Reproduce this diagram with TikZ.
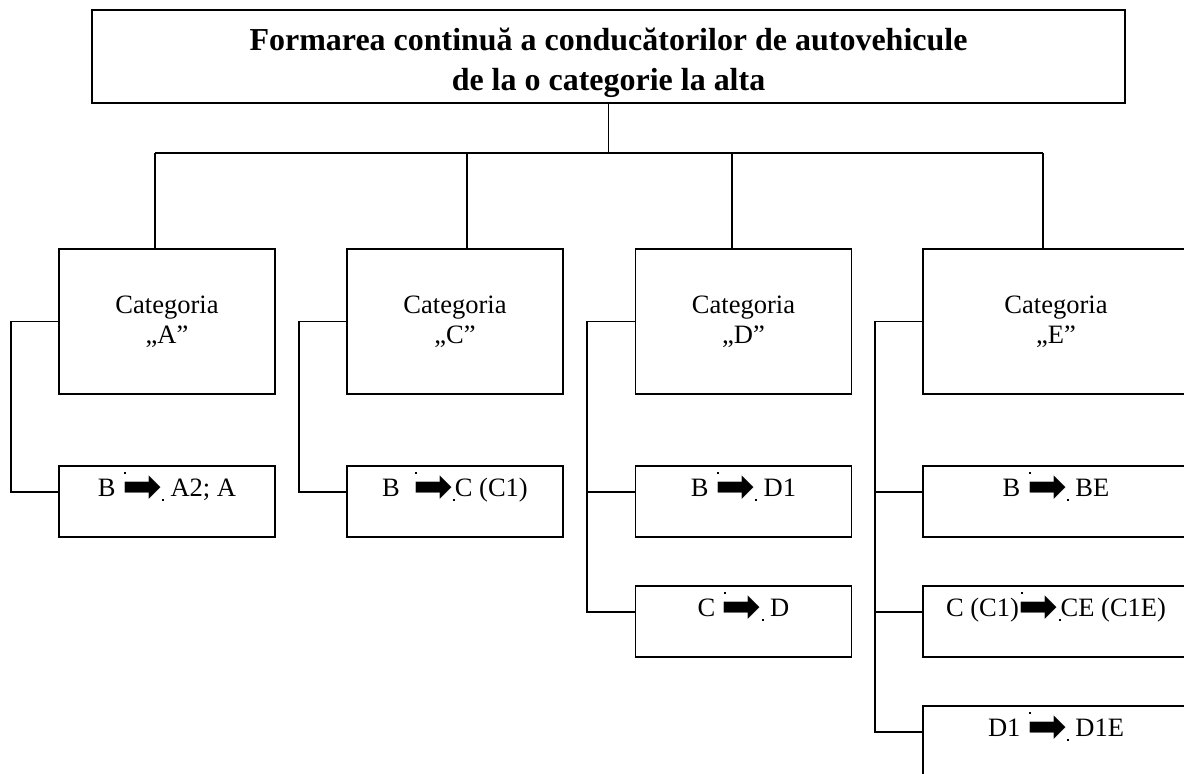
\documentclass[tikz,border=0pt]{standalone}
\usepackage{fontspec}
\setmainfont{Liberation Serif}
\newfontfamily\arrowfont{DejaVu Sans}
\usetikzlibrary{positioning}

\newcommand{\thickarrow}{\rlap{\hspace{1pt}\raisebox{12.5pt}{\rule{1.1pt}{1.1pt}}}\raisebox{-3.5pt}{\arrowfont\fontsize{27pt}{27pt}\selectfont ➡}\raisebox{-2.6pt}{\rule{1.1pt}{1.1pt}}}

\begin{document}
\begin{tikzpicture}[
  x=0.02cm, y=-0.02cm,
  line width=0.85pt,
  titlebox/.style={rectangle, draw, line width=1.2pt, align=center, font=\fontsize{18.2pt}{22.8pt}\selectfont\bfseries, minimum width=20.66cm, minimum height=1.85cm},
  catbox/.style={rectangle, draw, align=center, font=\fontsize{15.1pt}{17.2pt}\selectfont, minimum width=4.32cm, minimum height=2.9cm},
  subbox/.style={rectangle, draw, inner sep=0pt, font=\fontsize{15.1pt}{16.5pt}\selectfont, minimum width=4.32cm, text height=0.6cm, text depth=0.82cm},
  wide/.style={minimum width=5.32cm}
]
  \useasboundingbox (0,0) rectangle (1184,774);
  \clip (0,0) rectangle (1184,774);

  % Title
  \node[titlebox] (title) at (608.5,56.75) {\rule{0pt}{19.5pt}Formarea continuă a conducătorilor de autovehicule\\de la o categorie la alta};

  % Categories
  \node[catbox] (catA) at (167,321.5) {Categoria\\„A”};
  \node[catbox] (catC) at (455,321.5) {Categoria\\„C”};
  \node[catbox] (catD) at (743.5,321.5) {Categoria\\„D”};
  \node[catbox, wide] (catE) at (1056,321.5) {Categoria\\„E”};

  % Transitions
  \node[subbox] (subA1) at (167,501.5) {B \thickarrow\ A2; A};
  \node[subbox] (subC1) at (455,501.5) {B\ \ \thickarrow C (C1)};
  \node[subbox] (subD1) at (743.5,501.5) {B \thickarrow\ D1};
  \node[subbox] (subD2) at (743.5,621.5) {C \thickarrow\ D};
  \node[subbox, wide] (subE1) at (1056,501.5) {B \thickarrow\ BE};
  \node[subbox, wide] (subE2) at (1056,621.5) {C (C1)\thickarrow CE (C1E)};
  \node[subbox, wide] (subE3) at (1056,741.5) {D1 \thickarrow\ D1E};

  % Tree bar
  \coordinate (sA) at (155,153);
  \coordinate (sC) at (467,153);
  \coordinate (sD) at (732,153);
  \coordinate (sE) at (1043,153);
  \draw (title.south) -- (title.south |- sA);
  \draw (sA) -- (sE);
  \foreach \c in {A,C,D,E}
    \draw (s\c) -- (s\c |- cat\c.north);

  % Side brackets
  \coordinate (jA) at (11,0);
  \coordinate (jC) at (299,0);
  \coordinate (jD) at (587,0);
  \coordinate (jE) at (875,0);
  \draw (catA.west) -| (jA |- subA1.mid west) -- (subA1.mid west);
  \draw (catC.west) -| (jC |- subC1.mid west) -- (subC1.mid west);
  \draw (catD.west) -| (jD |- subD2.mid west) -- (subD2.mid west);
  \draw (jD |- subD1.mid west) -- (subD1.mid west);
  \draw (catE.west) -| (jE |- subE3.mid west) -- (subE3.mid west);
  \draw (jE |- subE1.mid west) -- (subE1.mid west);
  \draw (jE |- subE2.mid west) -- (subE2.mid west);
\end{tikzpicture}
\end{document}
